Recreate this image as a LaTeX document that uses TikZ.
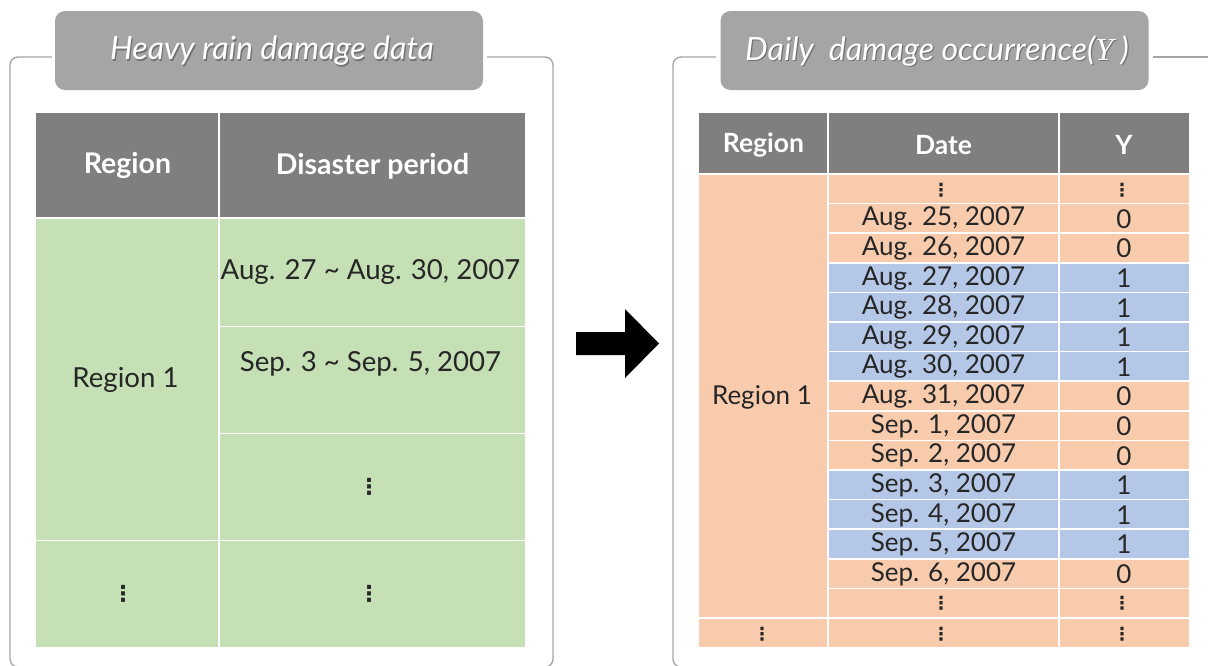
\documentclass[tikz,border=0pt]{standalone}
\usepackage{fontspec}
\setmainfont{Lato}
\newfontfamily\serifit{Liberation Serif}
\newfontfamily\dotfont{DejaVu Sans}
\definecolor{hdrgray}{HTML}{7F7F7F}
\definecolor{titlegray}{HTML}{A5A5A5}
\definecolor{framegray}{HTML}{A6A6A6}
\definecolor{cellgreen}{HTML}{C5E0B4}
\definecolor{cellorange}{HTML}{F8CBAD}
\definecolor{cellblue}{HTML}{B4C7E7}
\definecolor{ink}{HTML}{262626}
\newcommand{\vdts}{{\dotfont\bfseries ⋮}}
\begin{document}
\begin{tikzpicture}[x=1pt,y=-1pt,
  frame/.style={draw=framegray, line width=1.4pt, rounded corners=8pt},
  ttlbox/.style={fill=titlegray, rounded corners=10pt, minimum width=428pt, minimum height=79pt, inner sep=0pt},
  ttltext/.style={text=white, font=\itshape\fontsize{32}{34}\selectfont, inner sep=0pt},
  ttlshadow/.style={text=black!55, font=\itshape\fontsize{32}{34}\selectfont, inner sep=0pt},
  sep/.style={draw=white, line width=1.6pt},
  hdl/.style={text=white, font=\bfseries\fontsize{28.5}{30}\selectfont, inner sep=0pt},
  hdr/.style={text=white, font=\bfseries\fontsize{26.5}{28}\selectfont, inner sep=0pt},
  cl/.style={text=ink, font=\fontsize{27.6}{30}\selectfont, inner sep=0pt},
  cr/.style={text=ink, font=\fontsize{26}{28}\selectfont, inner sep=0pt},
  dtl/.style={text=ink, font=\fontsize{22}{22}\selectfont, inner sep=0pt},
  dtr/.style={text=ink, font=\fontsize{18}{18}\selectfont, inner sep=0pt}]
\useasboundingbox (0,0) rectangle (1210,665);

% ---------- left panel ----------
\draw[frame] (52,57) -- (10,57) -- (10,667) -- (553,667) -- (553,57) -- (487,57);
\node[ttlbox] (ltitle) at (269,50.5) {};
\node[ttlshadow] (ltitleshadow) at (273.2,52.2) {Heavy rain damage data};
\node[ttltext] (ltitletext) at (272,51) {Heavy rain damage data};

% table body
\fill[hdrgray] (36,113) rectangle (525,218);
\fill[cellgreen] (36,218) rectangle (525,647);
\draw[sep] (219,113) -- (219,647);
\draw[sep] (36,218) -- (525,218);
\draw[sep] (219,326.5) -- (525,326.5);
\draw[sep] (219,433.5) -- (525,433.5);
\draw[sep] (36,540.5) -- (525,540.5);

\node[hdl] (lhregion) at (127.5,166) {Region};
\node[hdl] (lhperiod) at (372.5,166) {Disaster period};
\node[cl] (lregion1) at (125.5,380) {Region 1};
\node[cl] (lper1) at (370.5,272) {Aug. 27 \textasciitilde{} Aug. 30, 2007};
\node[cl] (lper2) at (370.5,364) {Sep. 3 \textasciitilde{} Sep. 5, 2007};
\node[dtl] (lper3) at (369,487) {\vdts};
\node[dtl] (lregmore) at (123,594) {\vdts};
\node[dtl] (lpermore) at (369,594) {\vdts};

% ---------- arrow ----------
\fill[black] (576,332) -- (625,332) -- (625,309) -- (659,343.5) -- (625,378) -- (625,355) -- (576,355) -- cycle;

% ---------- right panel ----------
\draw[frame] (716,57) -- (673,57) -- (673,667) -- (1230,667);
\draw[frame] (1153,57) -- (1208,57);
\node[ttlbox] (rtitle) at (934.5,50.5) {};
\node[ttlshadow] (rtitleshadow) at (938.2,52.2) {Daily\ \ damage occurrence({\serifit Y} )};
\node[ttltext] (rtitletext) at (937,51) {Daily\ \ damage occurrence({\serifit Y} )};

\fill[hdrgray] (699,113) rectangle (1189,174);
\fill[cellorange] (699,174) rectangle (1189,647);
% highlighted days
\fill[cellblue] (828,262.8) rectangle (1189,381.2);
\fill[cellblue] (828,470) rectangle (1189,558.8);
\draw[sep] (828,113) -- (828,647);
\draw[sep] (1059,113) -- (1059,647);
\draw[sep] (699,174) -- (1189,174);
\foreach \k in {1,...,14} {
  \draw[sep] (828,174+29.6*\k) -- (1189,174+29.6*\k);
}
\draw[sep] (699,618) -- (1189,618);

\node[hdr] (rhregion) at (763.5,145) {Region};
\node[hdr] (rhdate) at (943.5,145) {Date};
\node[hdr] (rhy) at (1124,145) {Y};
\node[cr] (rregion1) at (762,397) {Region 1};

\foreach \i/\d/\y in {1/{Aug. 25, 2007}/0, 2/{Aug. 26, 2007}/0, 3/{Aug. 27, 2007}/1,
  4/{Aug. 28, 2007}/1, 5/{Aug. 29, 2007}/1, 6/{Aug. 30, 2007}/1, 7/{Aug. 31, 2007}/0,
  8/{Sep. 1, 2007}/0, 9/{Sep. 2, 2007}/0, 10/{Sep. 3, 2007}/1, 11/{Sep. 4, 2007}/1,
  12/{Sep. 5, 2007}/1, 13/{Sep. 6, 2007}/0} {
  \node[cr] (rdate\i) at (943.5,174+29.6*\i+15.3) {\d};
  \node[cr] (ry\i) at (1124,174+29.6*\i+15.3) {\y};
}
\node[dtr] (rdate0) at (941,190) {\vdts};
\node[dtr] (ry0) at (1122,190) {\vdts};
\node[dtr] (rdate14) at (941,603) {\vdts};
\node[dtr] (ry14) at (1122,603) {\vdts};
\node[dtr] (rregmore) at (762,634) {\vdts};
\node[dtr] (rdatemore) at (941,634) {\vdts};
\node[dtr] (rymore) at (1122,634) {\vdts};
\end{tikzpicture}
\end{document}
